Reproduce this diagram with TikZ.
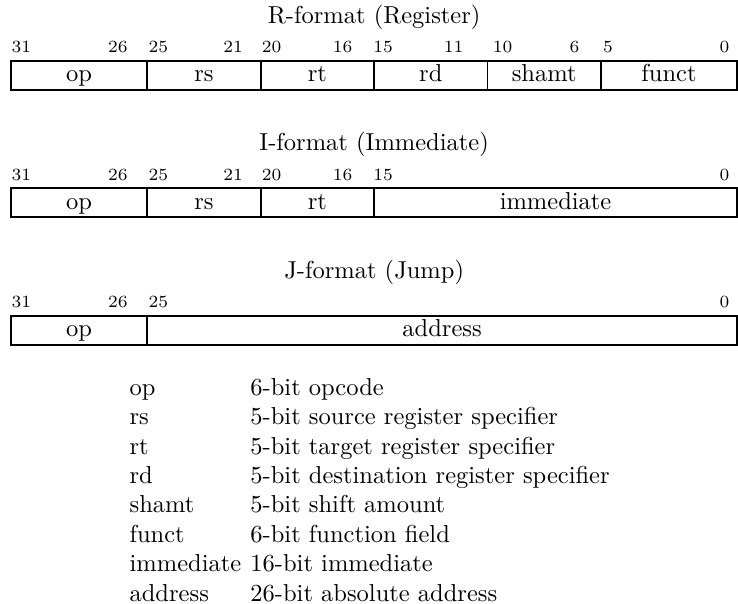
\documentclass[tikz,border=0pt]{standalone}
\usepackage{tikz}
\usetikzlibrary{positioning}
\tikzstyle{field} = [rectangle, draw=black, thick, minimum height=11.8pt, inner sep=0pt,
outer sep=0pt, text height=7pt, text depth=2pt]
\tikzstyle{bitnum} = [font=\scriptsize, inner sep=0pt]
\tikzstyle{fmttitle} = [anchor=base, inner sep=0pt]

\begin{document}
\begin{tikzpicture}
    \useasboundingbox (0,0) rectangle (301.2pt,-246.1pt);

    % R-format
    \node (rtitle) [fmttitle] at (152.7pt,-9.6pt) {R-format (Register)};
    \node (rop) [field, minimum width=55.56pt, anchor=north west] at (4.5pt,-24.9pt) {op};
    \node (rrs) [field, minimum width=46.3pt, right=0pt of rop] {rs};
    \node (rrt) [field, minimum width=46.3pt, right=0pt of rrs] {rt};
    \node (rrd) [field, minimum width=46.3pt, right=0pt of rrt] {rd};
    \node (rshamt) [field, minimum width=46.3pt, right=0pt of rrd] {shamt};
    \node (rfunct) [field, minimum width=55.56pt, right=0pt of rshamt] {funct};

    \node (r31) [bitnum, anchor=base west] at ([yshift=3.3pt]rop.north west) {31};
    \node (r26) [bitnum, anchor=base east] at ([xshift=-7.8pt,yshift=3.3pt]rop.north east) {26};
    \node (r25) [bitnum, anchor=base west] at ([xshift=0.4pt,yshift=3.3pt]rrs.north west) {25};
    \node (r21) [bitnum, anchor=base east] at ([xshift=-7pt,yshift=3.3pt]rrs.north east) {21};
    \node (r20) [bitnum, anchor=base west] at ([xshift=0.3pt,yshift=3.3pt]rrt.north west) {20};
    \node (r16) [bitnum, anchor=base east] at ([xshift=-8.6pt,yshift=3.3pt]rrt.north east) {16};
    \node (r15) [bitnum, anchor=base west] at ([xshift=-0.5pt,yshift=3.3pt]rrd.north west) {15};
    \node (r11) [bitnum, anchor=base east] at ([xshift=-9.6pt,yshift=3.3pt]rrd.north east) {11};
    \node (r10) [bitnum, anchor=base west] at ([xshift=2pt,yshift=3.3pt]rshamt.north west) {10};
    \node (r6) [bitnum, anchor=base east] at ([xshift=-8.6pt,yshift=3.3pt]rshamt.north east) {6};
    \node (r5) [bitnum, anchor=base west] at ([xshift=0.7pt,yshift=3.3pt]rfunct.north west) {5};
    \node (r0) [bitnum, anchor=base east] at ([xshift=-2.9pt,yshift=3.3pt]rfunct.north east) {0};

    % I-format
    \node (ititle) [fmttitle] at (152.7pt,-61.6pt) {I-format (Immediate)};
    \node (iop) [field, minimum width=55.56pt, anchor=north west] at (4.5pt,-76.9pt) {op};
    \node (irs) [field, minimum width=46.3pt, right=0pt of iop] {rs};
    \node (irt) [field, minimum width=46.3pt, right=0pt of irs] {rt};
    \node (iimm) [field, minimum width=148.16pt, right=0pt of irt] {immediate};

    \node (i31) [bitnum, anchor=base west] at ([yshift=3.3pt]iop.north west) {31};
    \node (i26) [bitnum, anchor=base east] at ([xshift=-7.8pt,yshift=3.3pt]iop.north east) {26};
    \node (i25) [bitnum, anchor=base west] at ([xshift=0.4pt,yshift=3.3pt]irs.north west) {25};
    \node (i21) [bitnum, anchor=base east] at ([xshift=-7pt,yshift=3.3pt]irs.north east) {21};
    \node (i20) [bitnum, anchor=base west] at ([xshift=0.3pt,yshift=3.3pt]irt.north west) {20};
    \node (i16) [bitnum, anchor=base east] at ([xshift=-8.6pt,yshift=3.3pt]irt.north east) {16};
    \node (i15) [bitnum, anchor=base west] at ([xshift=-0.5pt,yshift=3.3pt]iimm.north west) {15};
    \node (i0) [bitnum, anchor=base east] at ([xshift=-2.9pt,yshift=3.3pt]iimm.north east) {0};

    % J-format
    \node (jtitle) [fmttitle] at (152.7pt,-113.6pt) {J-format (Jump)};
    \node (jop) [field, minimum width=55.56pt, anchor=north west] at (4.5pt,-128.9pt) {op};
    \node (jaddr) [field, minimum width=240.76pt, right=0pt of jop] {address};

    \node (j31) [bitnum, anchor=base west] at ([yshift=3.3pt]jop.north west) {31};
    \node (j26) [bitnum, anchor=base east] at ([xshift=-7.8pt,yshift=3.3pt]jop.north east) {26};
    \node (j25) [bitnum, anchor=base west] at ([xshift=0.4pt,yshift=3.3pt]jaddr.north west) {25};
    \node (j0) [bitnum, anchor=base east] at ([xshift=-2.9pt,yshift=3.3pt]jaddr.north east) {0};

    % field legend
    \node (legend) [anchor=base west, inner sep=0pt] at (52.7pt,-161.3pt)
    {
      \begin{tabular}[t]{@{}l@{\hspace{3.75pt}}l@{}}
        op & 6-bit opcode \\
        rs & 5-bit source register specifier \\
        rt & 5-bit target register specifier \\
        rd & 5-bit destination register specifier \\
        shamt & 5-bit shift amount \\
        funct & 6-bit function field \\
        immediate & 16-bit immediate \\
        address & 26-bit absolute address \\
      \end{tabular}
    };
\end{tikzpicture}
\end{document}
